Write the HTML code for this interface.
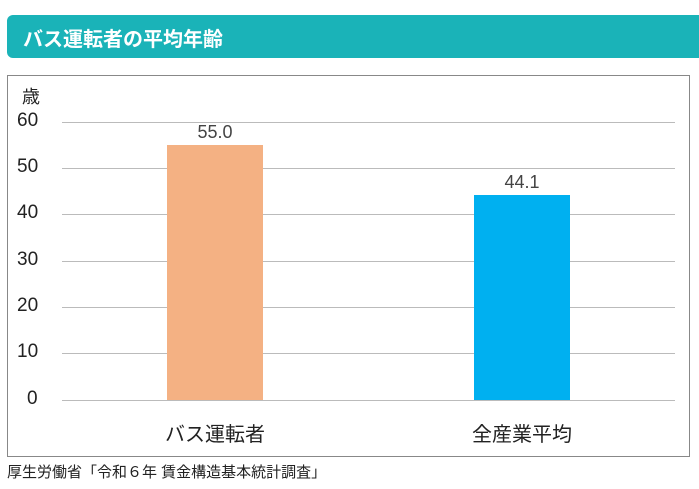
<!DOCTYPE html>
<html><head><meta charset="utf-8"><style>
body{margin:0;width:699px;height:489px;background:#fff;position:relative;overflow:hidden;font-family:"Liberation Sans","Noto Sans CJK JP",sans-serif;color:#222}
.hd{position:absolute;left:7px;top:15px;width:700px;height:43px;background:#1ab3b8;border-radius:6px}
.hd span{position:absolute;left:16px;top:8px;color:#fff;font-weight:bold;font-size:20px}
.box{position:absolute;left:7px;top:75px;width:681px;height:380px;border:1px solid #888}
.t{position:absolute;font-size:19px}
.g{position:absolute;left:62px;width:613px;height:1px;background:#bbb}
.bar{position:absolute;width:96px}
</style></head><body>
<div class="hd"><span>バス運転者の平均年齢</span></div>
<div class="box"></div>
<div class="t" style="left:22px;top:83px;font-size:18px">歳</div>
<div class="g" style="top:122px"></div><div class="g" style="top:168px"></div><div class="g" style="top:214px"></div><div class="g" style="top:261px"></div><div class="g" style="top:307px"></div><div class="g" style="top:353px"></div><div class="g" style="top:400px"></div>
<div class="t" style="left:17px;top:110px">60</div>
<div class="t" style="left:17px;top:156px">50</div>
<div class="t" style="left:17px;top:202px">40</div>
<div class="t" style="left:17px;top:249px">30</div>
<div class="t" style="left:17px;top:295px">20</div>
<div class="t" style="left:17px;top:341px">10</div>
<div class="t" style="left:27px;top:388px">0</div>
<div class="bar" style="left:167px;top:145px;height:255px;background:#f4b183"></div>
<div class="bar" style="left:474px;top:195px;height:205px;background:#00b0f0"></div>
<div class="t" style="left:167px;width:96px;text-align:center;top:122px;color:#444;font-size:18px">55.0</div>
<div class="t" style="left:474px;width:96px;text-align:center;top:172px;color:#444;font-size:18px">44.1</div>
<div class="t" style="left:125px;width:180px;text-align:center;top:418px;font-size:20px">バス運転者</div>
<div class="t" style="left:432px;width:180px;text-align:center;top:418px;font-size:20px">全産業平均</div>
<div style="position:absolute;left:7px;top:461px;font-size:15px">厚生労働省「令和６年 賃金構造基本統計調査」</div>
</body></html>
